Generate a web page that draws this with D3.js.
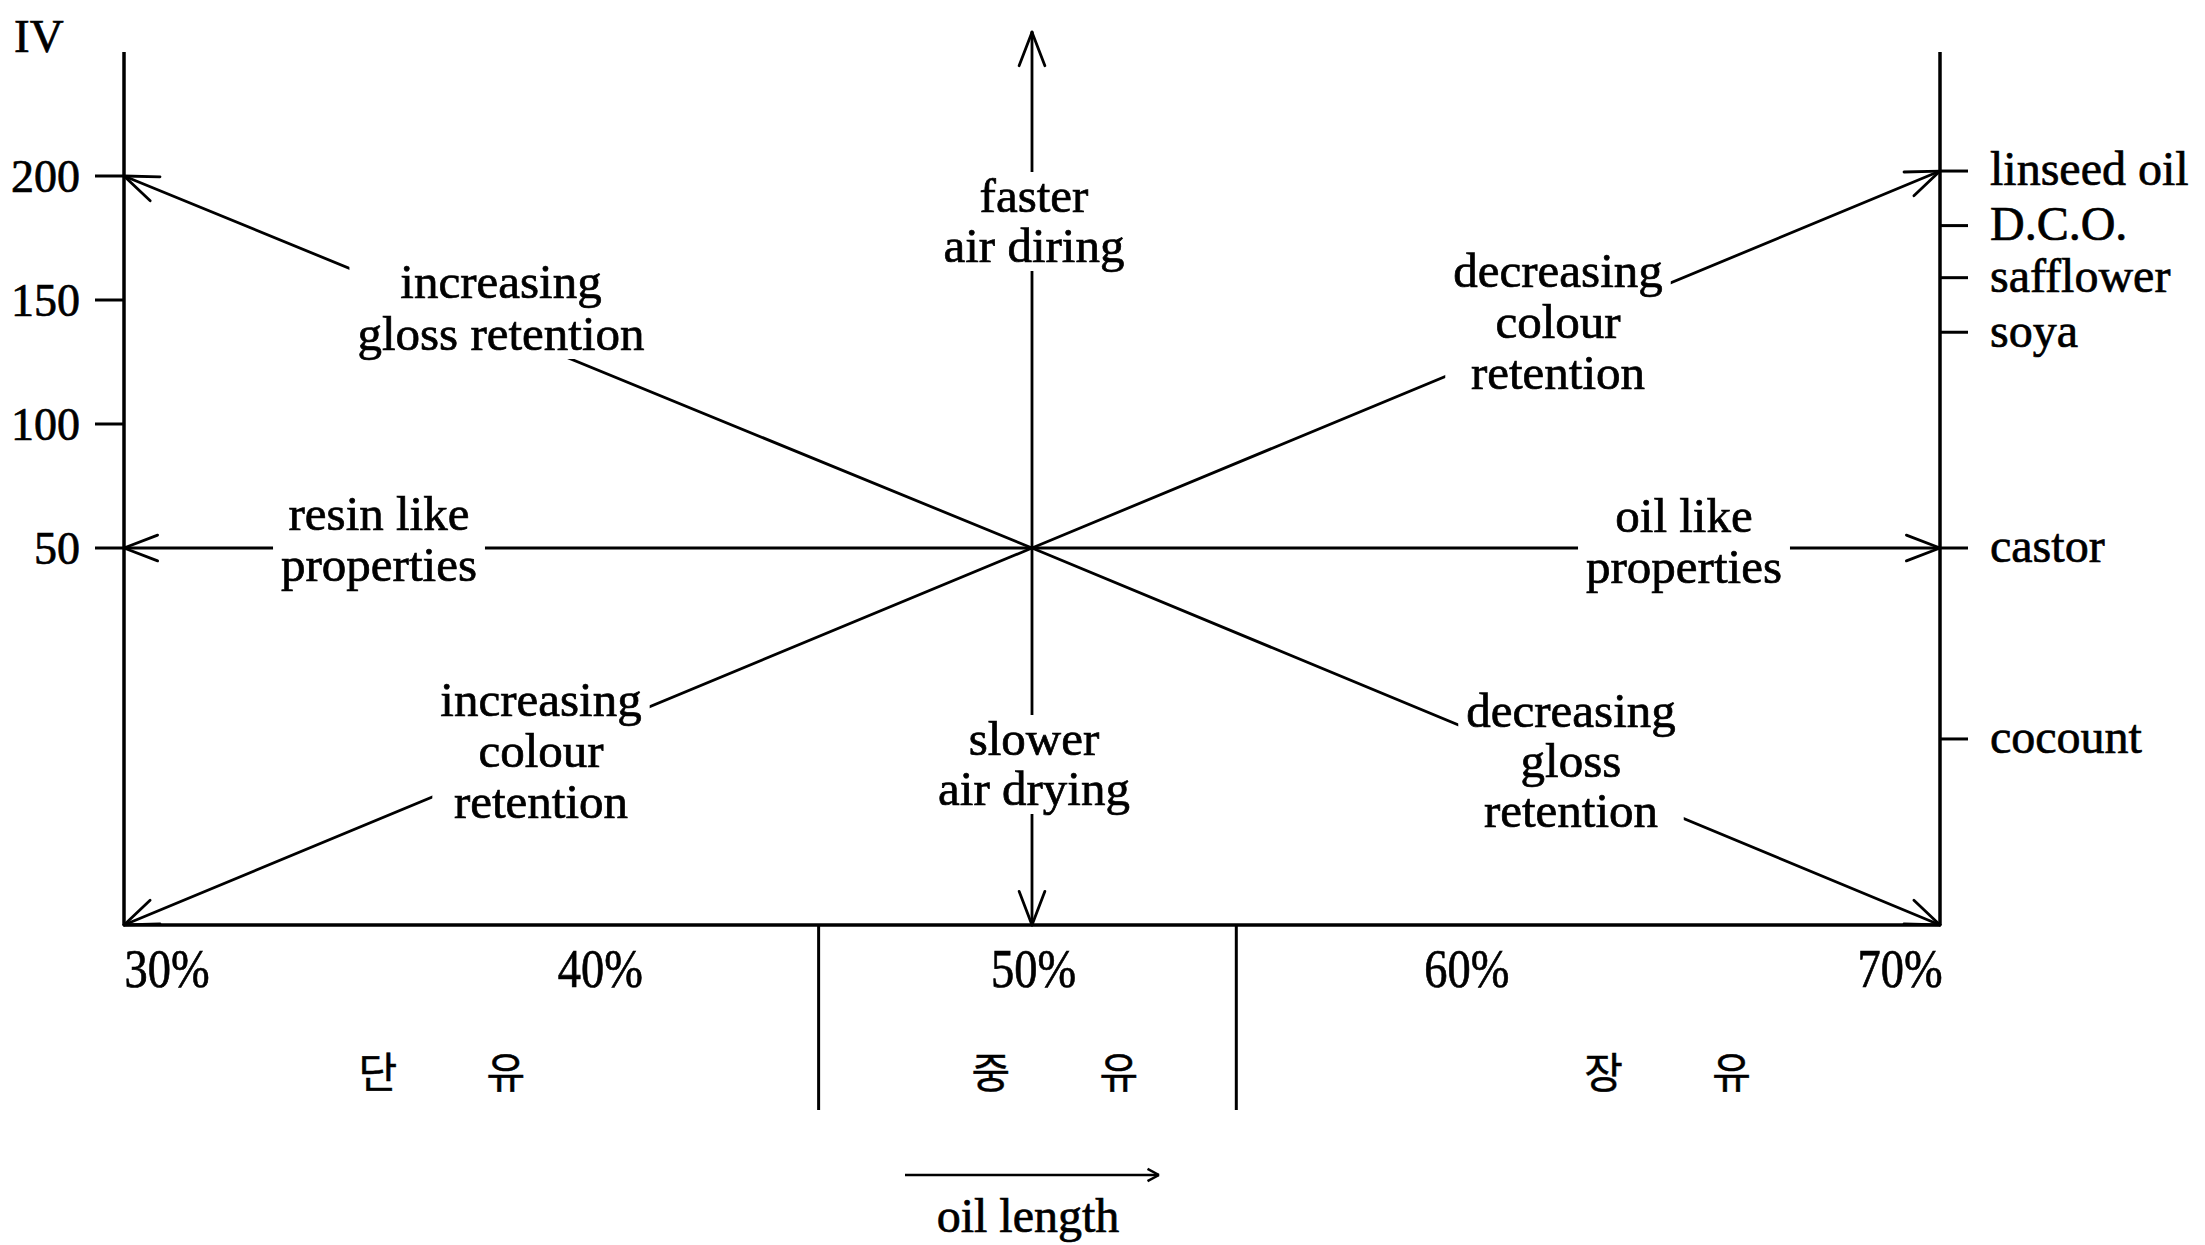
<!DOCTYPE html>
<html>
<head>
<meta charset="utf-8">
<script src="https://cdn.jsdelivr.net/npm/d3@7/dist/d3.min.js"></script>
<style>
  html, body { margin: 0; padding: 0; background: #ffffff; }
  svg { display: block; }
  text { font-family: "Liberation Serif", "Times New Roman", serif; fill: #000; stroke: #000; stroke-width: 0.7px; }
  .kr { font-family: "Noto Sans CJK KR", sans-serif; stroke-width: 0.5px; }
</style>
</head>
<body>
<div id="chart"></div>
<script>
// oil length (%) along the bottom
var oilLengths = [30, 40, 50, 60, 70];
var oilLengthLabels = ['30%', '40%', '50%', '60%', '70%'];

// iodine value ticks on the left
var ivTicks = [200, 150, 100, 50];

// oils on the right axis, IV
var oilNames = ['linseed oil', 'D.C.O.', 'safflower', 'soya', 'castor', 'cocount'];
var oilIV = [202, 180, 159, 137, 50, -27];

// alkyd classes under the axis
var classNames = ['단유', '중유', '장유'];
var classCentres = [37, 50.5, 64];
var classBounds = [45.3, 54.5];

// arrows that start at 50% / IV 50
var arrowLabels = [
  ['faster', 'air diring'],
  ['slower', 'air drying'],
  ['increasing', 'gloss retention'],
  ['decreasing', 'colour', 'retention'],
  ['resin like', 'properties'],
  ['oil like', 'properties'],
  ['increasing', 'colour', 'retention'],
  ['decreasing', 'gloss', 'retention']
];
var arrowToOil = [50, 50, 30, 70, 30, 70, 30, 70];
var arrowToIV = [258, -102, 200, 202, 50, 50, -102, -102];
var arrowFrom = [50, 50];

// IV span covered by the two vertical axes (unlabelled below 50)
var ivExtent = [-102, 250];

(function () {
  var svg;
  var width = 2205, height = 1245;
  var x, xLab, y;

  // label placement: [centre x, first baseline, line height]
  var labelPos = [
    [1034, 212, 50],
    [1034, 755, 50],
    [501, 298, 52],
    [1558, 287, 51],
    [379, 530, 51],
    [1684, 532, 51],
    [541, 716, 51],
    [1571, 727, 50]
  ];

  // **********		Build		********************************************** //
  function build() {
    svg = d3.select('#chart').append('svg')
      .attr('width', width)
      .attr('height', height)
      .attr('viewBox', [0, 0, width, height]);

    x = d3.scaleLinear().domain([30, 70]).range([124, 1940]);
    xLab = d3.scaleLinear().domain([30, 70]).range([167, 1900]);
    y = d3.scaleLinear().domain([50, 200]).range([548, 176]);

    var yTop = y(ivExtent[1]), yBot = y(ivExtent[0]);

    // axes frame
    var frame = svg.append('g').attr('stroke', '#000').attr('stroke-width', 3.5).attr('fill', 'none');
    frame.append('line').attr('x1', x(30)).attr('x2', x(30)).attr('y1', yTop).attr('y2', yBot);
    frame.append('line').attr('x1', x(70)).attr('x2', x(70)).attr('y1', yTop).attr('y2', yBot);
    frame.append('line').attr('x1', x(30)).attr('x2', x(70)).attr('y1', yBot).attr('y2', yBot);

    // left IV ticks
    svg.append('g').selectAll('line').data(ivTicks).join('line')
      .attr('x1', x(30) - 29).attr('x2', x(30))
      .attr('y1', function (d) { return y(d); })
      .attr('y2', function (d) { return y(d); })
      .attr('stroke', '#000').attr('stroke-width', 3);
    svg.append('g').selectAll('text').data(ivTicks).join('text')
      .attr('x', 80)
      .attr('y', function (d) { return y(d); })
      .attr('dy', '0.34em')
      .attr('text-anchor', 'end')
      .attr('font-size', 46)
      .text(function (d) { return d; });
    svg.append('text').attr('x', 14).attr('y', 52).attr('font-size', 47).text('IV');

    // right oil ticks
    svg.append('g').selectAll('line').data(oilIV).join('line')
      .attr('x1', x(70)).attr('x2', x(70) + 28)
      .attr('y1', function (d) { return y(d); })
      .attr('y2', function (d) { return y(d); })
      .attr('stroke', '#000').attr('stroke-width', 3);
    svg.append('g').selectAll('text').data(oilNames).join('text')
      .attr('x', x(70) + 50)
      .attr('y', function (d, i) { return y(oilIV[i]); })
      .attr('dy', '0.3em')
      .attr('font-size', 48)
      .text(function (d) { return d; });

    // arrows
    var ax = x(arrowFrom[0]), ay = y(arrowFrom[1]);
    var arrows = svg.append('g').attr('stroke', '#000').attr('stroke-width', 2.8).attr('fill', 'none')
      .attr('stroke-linecap', 'round');
    arrowToOil.forEach(function (o, i) {
      var tx = x(o), ty = y(arrowToIV[i]);
      arrows.append('line').attr('x1', ax).attr('y1', ay).attr('x2', tx).attr('y2', ty);
      arrowHead(arrows, ax, ay, tx, ty, 36, 21);
    });

    // arrow labels, white box cuts the line
    arrowLabels.forEach(function (lines, i) {
      var p = labelPos[i];
      var g = svg.append('g');
      var bg = g.append('rect').attr('fill', '#fff');
      var t = g.append('text').attr('text-anchor', 'middle').attr('font-size', 49);
      lines.forEach(function (s, k) {
        t.append('tspan').attr('x', p[0]).attr('y', p[1] + k * p[2]).text(s);
      });
      var bb = t.node().getBBox();
      bg.attr('x', bb.x - 8).attr('y', bb.y + 4).attr('width', bb.width + 16).attr('height', bb.height - 6);
    });

    // oil length labels
    svg.append('g').selectAll('text').data(oilLengthLabels).join('text')
      .attr('transform', function (d, i) { return 'translate(' + xLab(oilLengths[i]) + ',987) scale(0.86,1)'; })
      .attr('text-anchor', 'middle')
      .attr('font-size', 54)
      .text(function (d) { return d; });

    // class dividers
    svg.append('g').selectAll('line').data(classBounds).join('line')
      .attr('x1', function (d) { return x(d); })
      .attr('x2', function (d) { return x(d); })
      .attr('y1', yBot).attr('y2', 1110)
      .attr('stroke', '#000').attr('stroke-width', 3);

    // class names, two syllables spread apart
    classNames.forEach(function (name, i) {
      var cx = x(classCentres[i]);
      name.split('').forEach(function (ch, k) {
        svg.append('text').attr('class', 'kr')
          .attr('x', cx + (k === 0 ? -64 : 64))
          .attr('y', 1073)
          .attr('dy', '0.36em')
          .attr('text-anchor', 'middle')
          .attr('font-size', 42)
          .text(ch);
      });
    });

    // oil length arrow
    var la = svg.append('g').attr('stroke', '#000').attr('stroke-width', 2.5).attr('fill', 'none');
    la.append('line').attr('x1', 905).attr('y1', 1175).attr('x2', 1159).attr('y2', 1175);
    arrowHead(la, 905, 1175, 1159, 1175, 13, 28);
    svg.append('text').attr('x', 1028).attr('y', 1232).attr('text-anchor', 'middle')
      .attr('font-size', 48).text('oil length');
  }

  // open V head at (tx,ty)
  function arrowHead(g, fx, fy, tx, ty, len, deg) {
    var a = Math.atan2(ty - fy, tx - fx);
    var r = deg * Math.PI / 180;
    [a + r, a - r].forEach(function (b) {
      g.append('line')
        .attr('x1', tx).attr('y1', ty)
        .attr('x2', tx - len * Math.cos(b))
        .attr('y2', ty - len * Math.sin(b));
    });
  }

  build();
})();
</script>
</body>
</html>
